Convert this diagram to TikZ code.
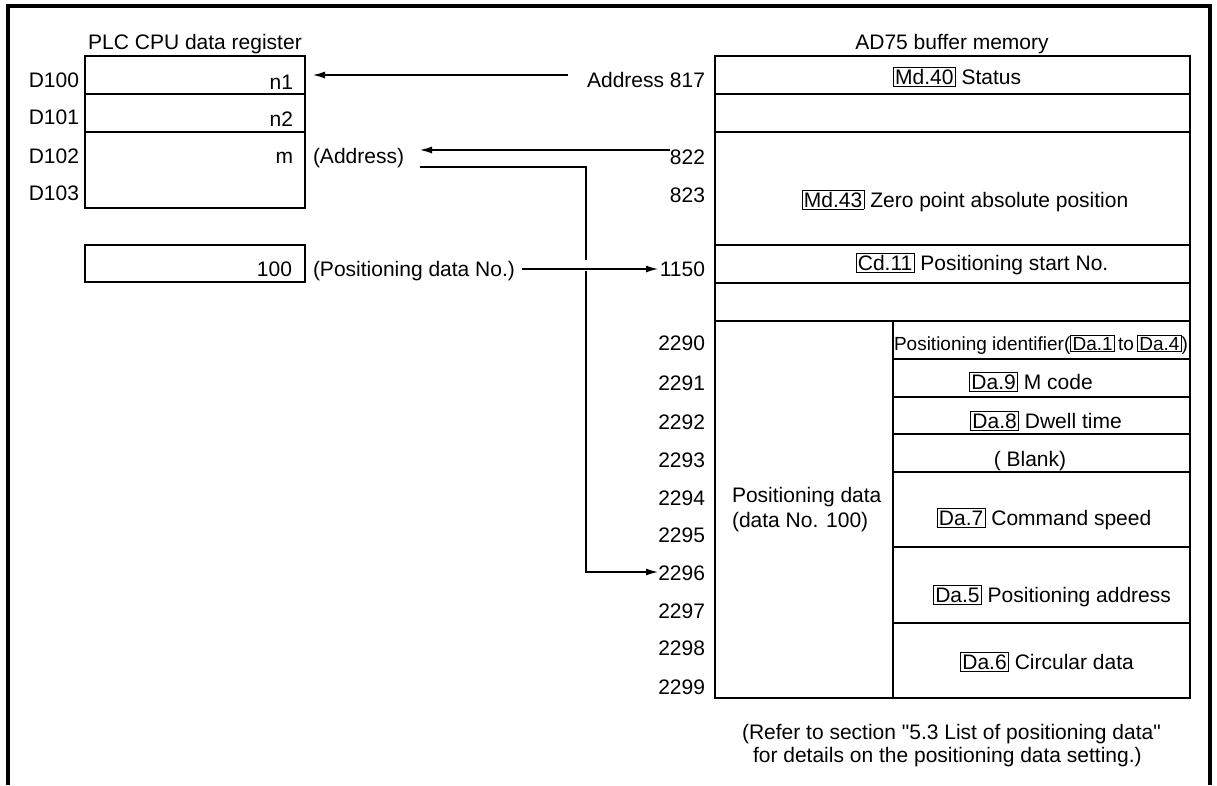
\documentclass[tikz,border=0pt]{standalone}
\usepackage{fontspec}
\setmainfont{Liberation Sans}
\newfontfamily\plainfont{Liberation Sans}
\usetikzlibrary{arrows.meta}
\setlength{\fboxsep}{1.3pt}
\setlength{\fboxrule}{0.9pt}
\newcommand{\bx}[1]{\fbox{#1}}
\begin{document}
\begin{tikzpicture}[x=1pt,y=-1pt,
  every node/.style={inner sep=0pt, outer sep=0pt, font=\fontsize{21}{25}\selectfont},
  lbe/.style={anchor=base east},
  lbw/.style={anchor=base west},
  lbc/.style={anchor=base},
  smalltext/.style={font=\fontsize{19}{22}\selectfont},
  arr/.style={line width=1.2pt, -{Latex[length=12pt,width=7pt]}},
  wire/.style={line width=1.2pt},
  boxline/.style={line width=1.8pt},
  rowline/.style={line width=1.2pt}
]
\useasboundingbox (0,0) rectangle (1217,785);
% outer frame (open at the bottom)
\draw[line width=4pt] (8,785) -- (8,6) -- (1210,6) -- (1210,785);

% ---------- PLC CPU data register ----------
\node[lbc] (hdrL) at (195,49) {PLC CPU data register};
\node[draw, boxline, minimum width=220pt, minimum height=152pt, anchor=north west] (reg) at (85,56) {};
\draw[rowline] (85,94) -- (305,94);
\draw[rowline] (85,132) -- (305,132);
\node[lbe] (d100) at (79,87) {D100};
\node[lbe] (d101) at (79,124) {D101};
\node[lbe] (d102) at (79,163) {D102};
\node[lbe] (d103) at (79,200) {D103};
\node[lbe] (n1) at (293,89) {n1};
\node[lbe] (n2) at (293,126) {n2};
\node[lbe] (m) at (293,163) {m};
\node[lbw] (addrlbl) at (313,163) {(Address)};

\node[draw, boxline, minimum width=220pt, minimum height=37pt, anchor=north west] (pbox) at (85,245) {};
\node[lbe] (v100) at (292,276) {100};
\node[lbw] (pdno) at (313,276) {(Positioning data No.)};

% ---------- address labels ----------
\node[lbe] (a817) at (705,87) {Address 817};
\node[lbe] (a822) at (705,164) {822};
\node[lbe] (a823) at (705,202) {823};
\node[lbe] (a1150) at (705,276) {1150};
\node[lbe] (a2290) at (705,350) {2290};
\node[lbe] (a2291) at (705,390) {2291};
\node[lbe] (a2292) at (705,429) {2292};
\node[lbe] (a2293) at (705,467) {2293};
\node[lbe] (a2294) at (705,505) {2294};
\node[lbe] (a2295) at (705,542) {2295};
\node[lbe] (a2296) at (705,580) {2296};
\node[lbe] (a2297) at (705,618) {2297};
\node[lbe] (a2298) at (705,655) {2298};
\node[lbe] (a2299) at (705,694) {2299};

% ---------- AD75 buffer memory ----------
\node[lbc] (hdrR) at (952,49) {AD75 buffer memory};
\draw[line width=2pt] (715,56) rectangle (1190,698);
\foreach \yy in {94,132,245,283,321}{\draw[rowline] (715,\yy) -- (1190,\yy);}
\draw[rowline] (893,321) -- (893,698);
\foreach \yy in {359,397,434,472,547,623}{\draw[rowline] (893,\yy) -- (1190,\yy);}

\node[lbc] (md40) at (957,84) {\bx{Md.40} Status};
\node[lbc] (md43) at (965,207) {\bx{Md.43} Zero point absolute position};
\node[lbc] (cd11) at (982,270) {\bx{Cd.11} Positioning start No.};
\node[lbc, smalltext] (da14) at (1041,350) {Positioning identifier(\bx{Da.1}\,to\,\bx{Da.4})};
\node[lbc] (da9) at (1031,389) {\bx{Da.9} M code};
\node[lbc] (da8) at (1046,428) {\bx{Da.8} Dwell time};
\node[lbc] (blank) at (1030,466) {( Blank)};
\node[lbc] (da7) at (1044,525) {\bx{Da.7} Command speed};
\node[lbc] (da5) at (1052,602) {\bx{Da.5} Positioning address};
\node[lbc] (da6) at (1047,669) {\bx{Da.6} Circular data};
\node[lbw] (pd1) at (732,502) {Positioning data};
\node[lbw] (pd2) at (732,527) {(data No. 100)};

% ---------- footnote ----------
\node[lbw, font=\plainfont\fontsize{21}{25}\selectfont] (ref1) at (742,739) {(Refer to section "5.3 List of positioning data"};
\node[lbw] (ref2) at (753,762) {for details on the positioning data setting.)};

% ---------- connectors ----------
\coordinate (c817s) at (568,75);
\coordinate (c817e) at (313,75);
\draw[arr] (c817s) -- (c817e);

\coordinate (c822s) at (670,150);
\coordinate (c822e) at (420,150);
\draw[arr] (c822s) -- (c822e);

\coordinate (cm0) at (420,167);
\coordinate (cm1) at (586,167);
\coordinate (cm2) at (586,260);
\coordinate (cm3) at (586,271);
\coordinate (cm4) at (586,572);
\coordinate (c2296) at (658,572);
\draw[wire] (cm0) -- (cm1) -- (cm2);
\draw[arr] (cm3) -- (cm4) -- (c2296);

\coordinate (c1150s) at (522,269);
\coordinate (c1150e) at (658,269);
\draw[arr] (c1150s) -- (c1150e);
\end{tikzpicture}
\end{document}
